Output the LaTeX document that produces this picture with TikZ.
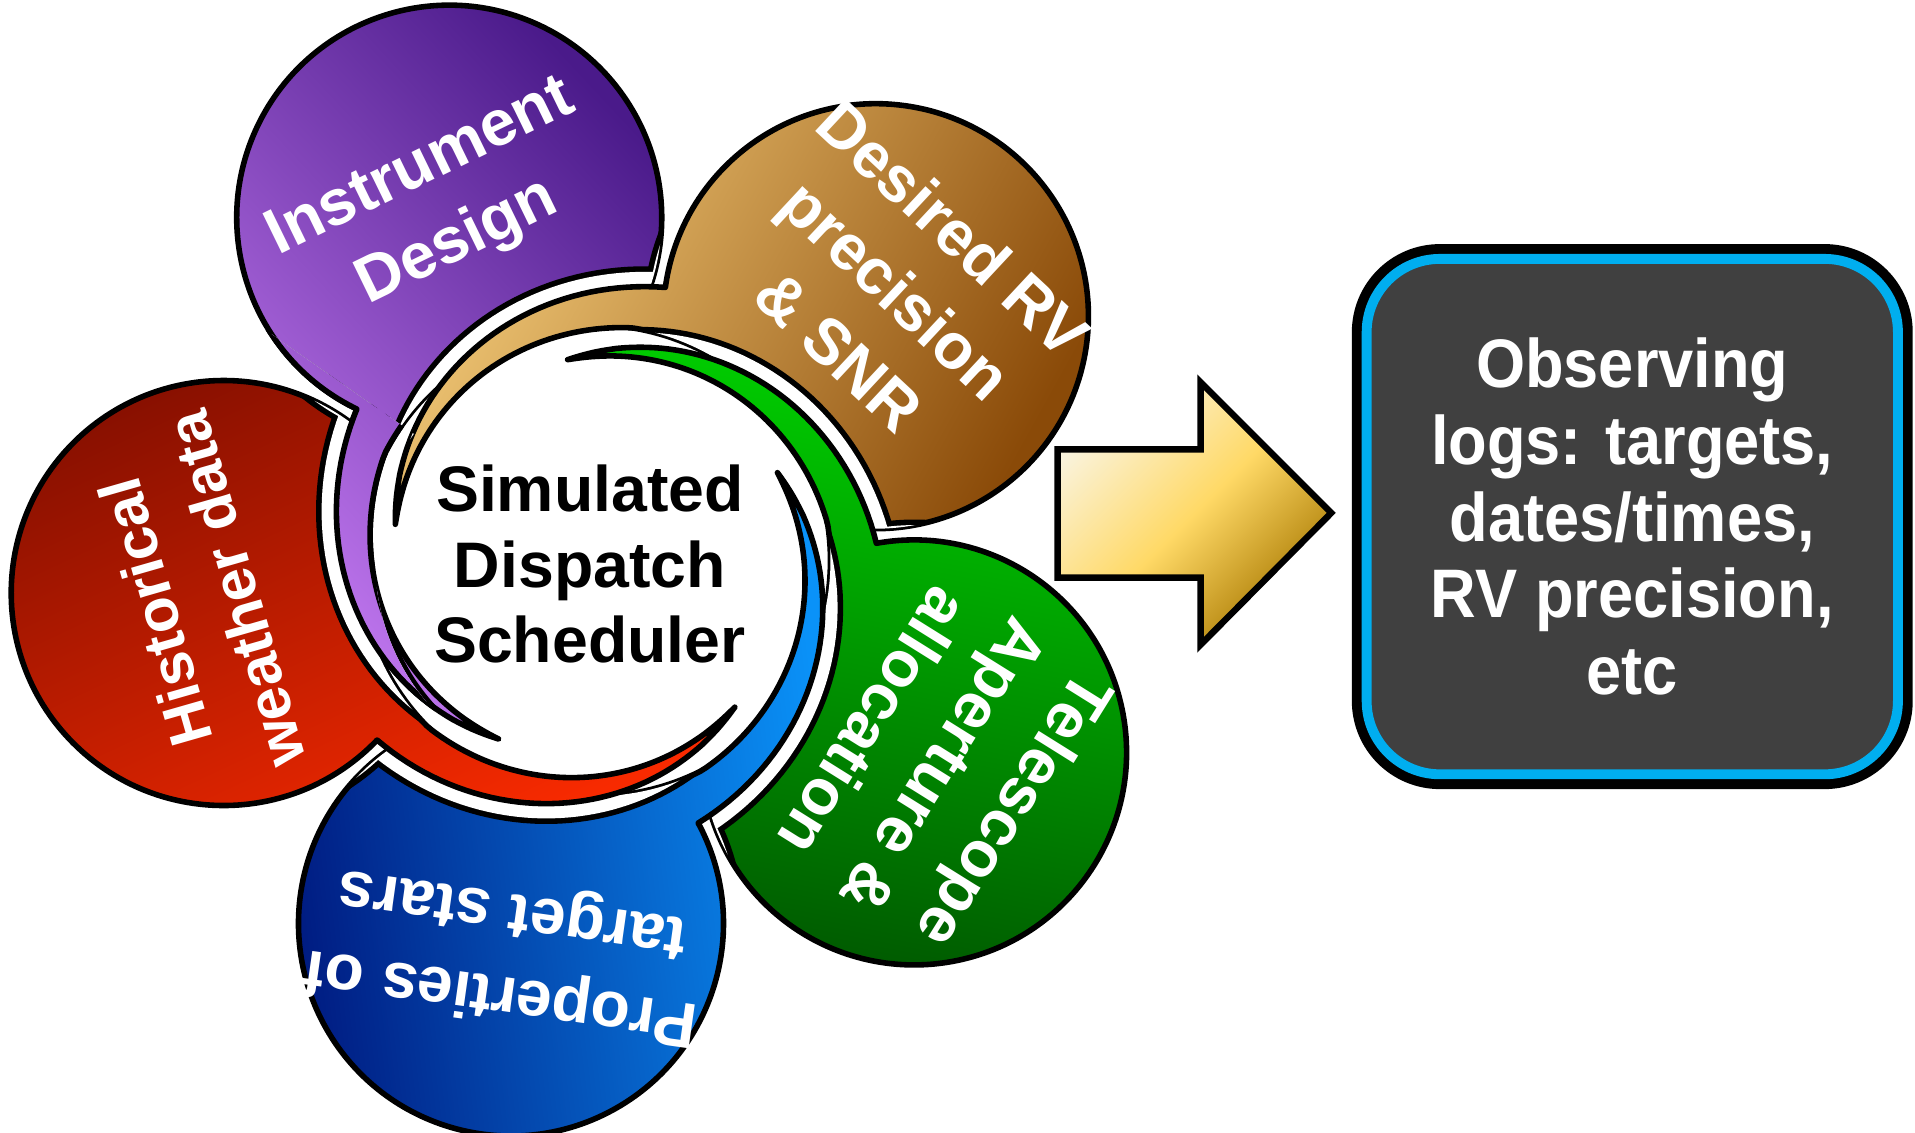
\documentclass[tikz,border=0pt]{standalone}
\usepackage{fontspec}
\setmainfont{Liberation Sans}
\newfontfamily\narrowfont[FakeStretch=0.92]{Liberation Sans}
\usepackage{tikz}
\definecolor{purplelight}{HTML}{C77CF5}
\definecolor{purpledark}{HTML}{4A1A8A}
\definecolor{goldlight}{HTML}{F4CC7A}
\definecolor{golddark}{HTML}{8A4A08}
\definecolor{greenlight}{HTML}{00D200}
\definecolor{greendark}{HTML}{005800}
\definecolor{bluelight}{HTML}{0A92F8}
\definecolor{bluedark}{HTML}{001A80}
\definecolor{redlight}{HTML}{F82A00}
\definecolor{reddark}{HTML}{881000}
\definecolor{arrowlight}{HTML}{FAF3DC}
\definecolor{arrowmid}{HTML}{FFD966}
\definecolor{arrowdark}{HTML}{A87800}
\definecolor{logblue}{HTML}{00AEEF}
\definecolor{loggray}{HTML}{404040}
\tikzstyle{haloout}=[black, line width=9.5pt, line join=round]
\tikzstyle{haloin}=[white, line width=6.9pt, line join=round]
\tikzstyle{petalline}=[draw=black, line width=1.3pt, line join=round]
\tikzstyle{petaltext}=[text=white, align=center, font=\fontsize{15}{19.5}\selectfont\bfseries]
\tikzstyle{logbox}=[fill=loggray, draw=logblue, line width=2.3pt, rounded corners=0.6cm, minimum width=4.35cm, minimum height=4.22cm, inner sep=0pt, text=white, align=center, font=\narrowfont\fontsize{16}{17.9}\selectfont\bfseries, preaction={draw=black, line width=6.9pt}]
% outline of one petal (circle and tail), #1 = direction of the petal
\newcommand{\petalpath}[1]{%
  plot[domain=128.7:34.51, samples=50] ({#1+\x}:{ro(\x)})
  arc[start angle={#1+131.22}, end angle={#1-144.17}, radius=1.74]
  -- plot[domain=-31.86:128.7, samples=100] ({#1+\x}:{ri(\x)}) -- cycle}
\newcommand{\allpetals}{\petalpath{113}\petalpath{41}\petalpath{-31}\petalpath{-103}\petalpath{-175}}
% #1 = direction, #2 = light colour, #3 = dark colour, #4 = shading angle
\newcommand{\petal}[4]{%
  \begin{scope}
    \clip \allpetals;
    \draw[haloout] \petalpath{#1};
    \draw[haloin] \petalpath{#1};
  \end{scope}
  \shadedraw[petalline, top color=#2, bottom color=#3, shading angle=#4] \petalpath{#1};
}

\begin{document}
\begin{tikzpicture}[declare function={
    ro(\x) = (166+65*pow(max(1-(\x-34.51)/94.19,0.0001),1.05))/100;
    ri(\x) = (\x<40) ? 1.93 : (166+27*pow(max(1-(\x-40)/88.7,0.0001),1.3))/100;
  }]
    \useasboundingbox (0,0) rectangle (15.68,9.27);

    % petals around the scheduler
    \begin{scope}[shift={(4.87,4.68)}]
        \petal{113}{purplelight}{purpledark}{133}
        \petal{41}{goldlight}{golddark}{61}
        \petal{-31}{greenlight}{greendark}{-11}
        \petal{-103}{bluelight}{bluedark}{-83}
        \petal{-175}{redlight}{reddark}{-155}
        % tail of the purple petal lies over the red one
        \begin{scope}
            \clip (145:1.8) arc[start angle=145, end angle=262, radius=1.8]
                -- (262:5) arc[start angle=262, end angle=145, radius=5] -- cycle;
            \petal{113}{purplelight}{purpledark}{133}
        \end{scope}
    \end{scope}

    % petal labels
    \node[petaltext, rotate=26] (instr) at (3.60,7.58) {Instrument\\Design};
    \node[petaltext, rotate=-43] (rvsnr) at (7.34,6.90) {Desired RV\\precision\\\& SNR};
    \node[petaltext, rotate=-122] (tel) at (7.74,2.99) {Telescope\\Aperture \&\\allocation};
    \node[petaltext, rotate=172] (props) at (4.15,1.47) {Properties of\\target stars};
    \node[petaltext, rotate=106, font=\fontsize{14}{19.5}\selectfont\bfseries] (weather) at (1.60,4.35) {Historical\\weather data};

    % centre
    \node[align=center, font=\fontsize{15}{17.6}\selectfont\bfseries] (sched) at (4.83,4.65) {Simulated\\Dispatch\\Scheduler};

    % block arrow
    \shadedraw[line width=1.5pt, line join=miter, top color=arrowlight, bottom color=arrowdark, middle color=arrowmid, shading angle=45]
        (8.66,5.59) -- (9.83,5.59) -- (9.83,6.14) -- (10.90,5.07) -- (9.83,3.99) -- (9.83,4.54) -- (8.66,4.54) -- cycle;

    % output
    \node[logbox] (logs) at (13.365,5.04) {Observing\\logs: targets,\\dates/times,\\RV precision,\\etc};
\end{tikzpicture}
\end{document}
